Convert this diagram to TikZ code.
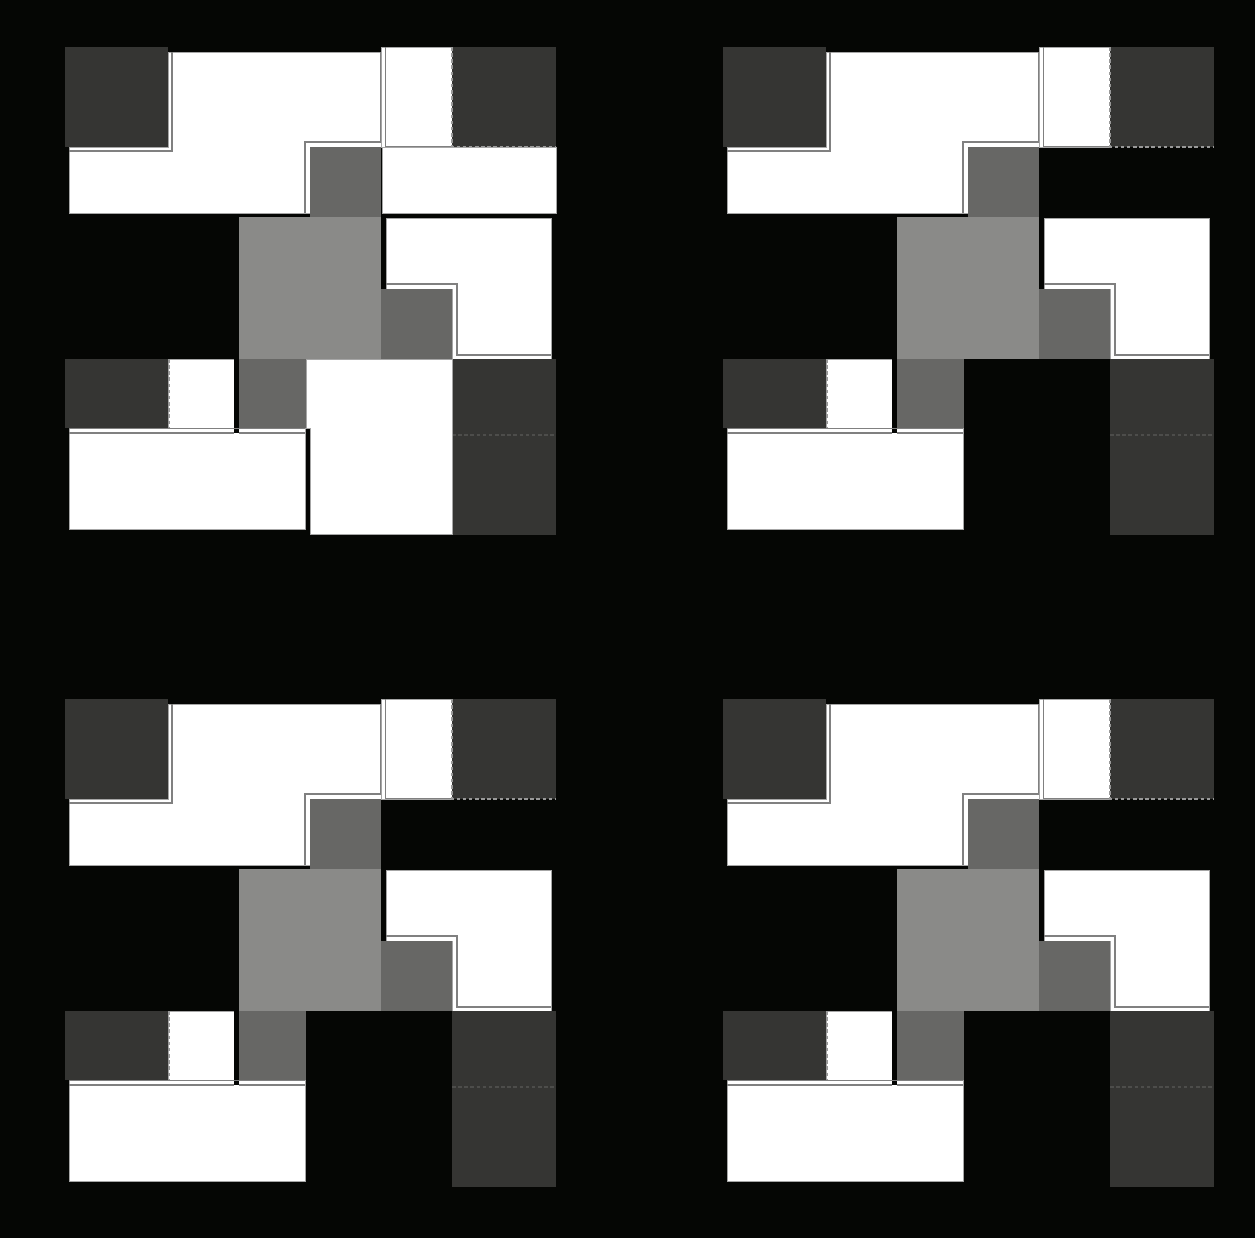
\documentclass[tikz,border=0pt]{standalone}
\usepackage{tikz}
\definecolor{bgblack}{HTML}{050604}
\definecolor{darkgrey}{HTML}{353533}
\definecolor{midgrey}{HTML}{676765}
\definecolor{lightgrey}{HTML}{8A8A88}
\tikzset{
  whitefill/.style={fill=white,draw=gray!70,line width=0.4pt},
  edgeline/.style={draw=gray,line width=0.7pt},
  dashline/.style={draw=gray!80,dash pattern=on 2pt off 1.5pt,line width=0.6pt},
}

\begin{document}
\begin{tikzpicture}[x=0.02cm,y=-0.02cm]
\fill[bgblack] (0,0) rectangle (1255,1238);
% the four panels share this part
\foreach \px/\py in {65/47,723/47,65/699,723/699}{
\begin{scope}[shift={(\px,\py)}]
\filldraw[whitefill] (103,5) -- (316,5) -- (316,100) -- (245,100) -- (245,166) -- (4,166) -- (4,100) -- (103,100) -- cycle;
\filldraw[whitefill] (316,0) rectangle (387,100);
\filldraw[whitefill] (321,171) -- (486,171) -- (486,312) -- (387,312) -- (387,242) -- (321,242) -- cycle;
\filldraw[whitefill] (103,312) rectangle (169,381);
\filldraw[whitefill] (4,381) rectangle (240,482);
\fill[darkgrey] (0,0) rectangle (103,100);
\fill[darkgrey] (387,0) rectangle (491,100);
\fill[midgrey] (245,100) rectangle (316,170);
\fill[lightgrey] (174,170) rectangle (316,312);
\fill[midgrey] (316,242) rectangle (387,312);
\fill[darkgrey] (0,312) rectangle (103,381);
\fill[midgrey] (174,312) rectangle (241,381);
\fill[darkgrey] (387,312) rectangle (491,488);
\fill[bgblack] (169,312) rectangle (174,386);
\draw[edgeline] (4,104) -- (107,104) -- (107,5);
\draw[edgeline] (315.5,5) -- (315.5,95) -- (240,95) -- (240,166);
\draw[edgeline] (320.5,0) -- (320.5,99.5) -- (387,99.5);
\draw[edgeline] (321,237) -- (392,237) -- (392,308) -- (486,308);
\draw[edgeline] (4,381.5) -- (240,381.5);
\draw[edgeline] (4,386) -- (169,386) (174,386) -- (240,386);
\draw[dashline] (387,0) -- (387,100) -- (491,100);
\draw[dashline] (104,312) -- (104,381);
\draw[dashline,draw=white!12!darkgrey] (387,388) -- (491,388);
\end{scope}
}
% first panel only
\begin{scope}[shift={(65,47)}]
\filldraw[whitefill] (317,100) rectangle (491,166);
\filldraw[whitefill] (241,312) -- (387,312) -- (387,487) -- (245,487) -- (245,381) -- (241,381) -- cycle;
\end{scope}
\end{tikzpicture}
\end{document}
